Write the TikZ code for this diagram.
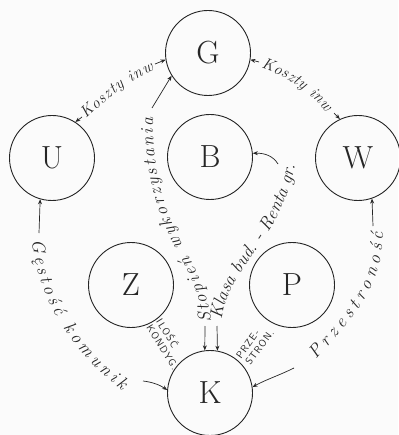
\documentclass[tikz,border=0pt]{standalone}
\usepackage{fontspec}
\usetikzlibrary{arrows.meta,decorations.text}
\newcommand\handfont{\itshape\fontsize{18}{20}\selectfont}
\newcommand\handfontb{\itshape\fontsize{16}{18}\selectfont}
\newfontfamily\capsfont[LetterSpace=10]{Latin Modern Sans}
\begin{document}
\begin{tikzpicture}[x=1pt,y=-1pt,
  circ/.style={circle,draw=black!85,line width=0.9pt,minimum size=85pt,inner sep=0pt,font=\fontsize{32}{34}\selectfont,text=black!85},
  arr/.style={draw=black!85,line width=0.7pt,-{Stealth[length=5pt,width=4pt]}},
  lbl/.style={decorate,decoration={text along path,text align={fit to path},text color=black!85}},
  caps/.style={font=\capsfont\fontsize{10}{11.5}\selectfont,align=left,inner sep=0pt,text=black!85}
]
\useasboundingbox (0,0) rectangle (398,435);
\fill[gray!3] (0,0) rectangle (398,435);

% nodes
\node[circ] (G) at (208,53) {G};
\node[circ] (U) at (52,158) {U};
\node[circ] (B) at (210,157) {B};
\node[circ] (W) at (358,158) {W};
\node[circ] (Z) at (131,285) {Z};
\node[circ] (P) at (292,285) {P};
\node[circ] (K) at (210,393) {K};

% coordinates
\coordinate (ugA) at (82,117);
\coordinate (ugB) at (155,64);
\coordinate (ugS) at (86,119);
\coordinate (ugE) at (154,70);
\coordinate (gwA) at (259,62);
\coordinate (gwB) at (334,113);
\coordinate (gwS) at (261,68);
\coordinate (gwE) at (326,112);
\coordinate (ukA) at (39,233);
\coordinate (ukB) at (143,381);
\coordinate (ukS) at (32,240);
\coordinate (ukE) at (122,390);
\coordinate (wkA) at (373,226);
\coordinate (wkB) at (294,368);
\coordinate (wkS) at (316,360);
\coordinate (wkE) at (383,232);
\coordinate (gkA) at (152,108);
\coordinate (gkS) at (211,322);
\coordinate (gkE) at (153,118);
\coordinate (kS) at (205,326);
\coordinate (kK) at (217,326);
\coordinate (kbS) at (222,320);
\coordinate (kbE) at (295,166);
\coordinate (kbA) at (278,164);

% U - G
\draw[arr] (ugA) -- (U.57);
\draw[arr] (ugB) -- (G.189);
\path[lbl,decoration={text={|\handfontb|Koszty inw}}] (ugS) .. controls (106,100) and (126,82) .. (ugE);

% G - W
\draw[arr] (gwA) -- (G.351);
\draw[arr] (gwB) -- (W.115);
\path[lbl,decoration={text={|\handfontb|Koszty inw}}] (gwS) .. controls (285,76) and (308,90) .. (gwE);

% U - K
\draw[arr] (ukA) -- (U.254);
\draw[arr] (ukB) .. controls (152,382) and (160,385) .. (K.176);
\path[lbl,decoration={text={|\handfont|Gęstość komunik}}] (ukS) .. controls (38,300) and (70,350) .. (ukE);

% W - K
\draw[arr] (wkA) -- (W.289);
\draw[arr] (wkB) .. controls (280,375) and (265,380) .. (K.8);
\path[lbl,decoration={text={|\handfont|Przestroność}}] (wkS) .. controls (350,320) and (383,290) .. (wkE);

% G - K
\draw[arr] (gkA) -- (G.212);
\path[lbl,decoration={text={|\handfont|Stopień wykorzystania}}] (gkS) .. controls (205,255) and (152,235) .. (gkE);
\draw[arr] (kS) -- (K.97);

% K - B
\draw[arr] (kK) -- (K.80);
\path[lbl,decoration={text={|\handfont|Klasa bud. - Renta gr.}}] (kbS) .. controls (226,270) and (281,240) .. (kbE);
\draw[arr] (kbA) .. controls (273,156) and (265,153) .. (B.5);

% small labels
\node[caps,rotate=-58] (zk) at (168,344) {ILOŚĆ\\KONDYG.};
\node[caps,rotate=54] (pk) at (255,344) {PRZE-\\STRON.};
\end{tikzpicture}
\end{document}
